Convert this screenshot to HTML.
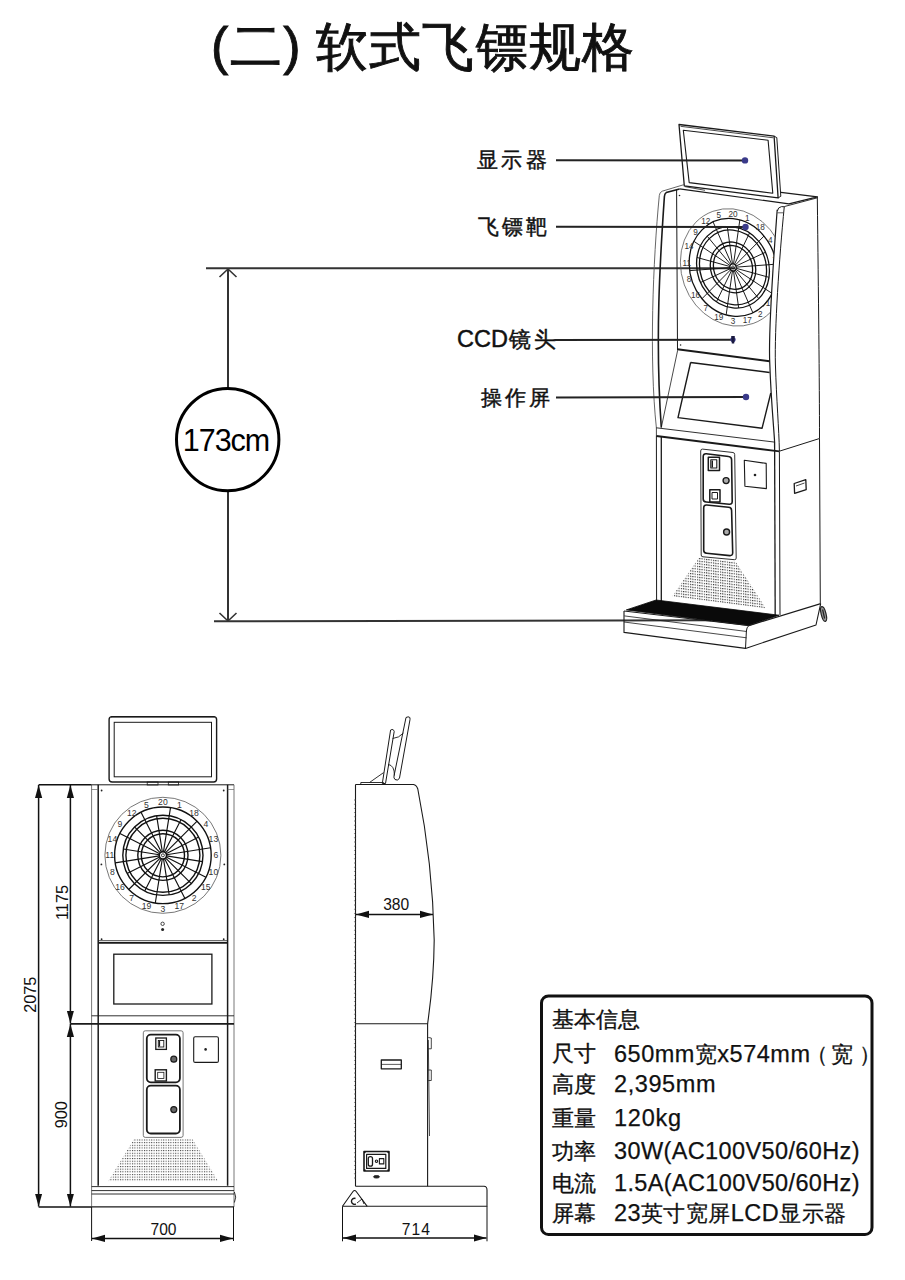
<!DOCTYPE html>
<html><head><meta charset="utf-8">
<style>
html,body{margin:0;padding:0;background:#fff;}
body{width:905px;height:1280px;overflow:hidden;position:relative;font-family:"Liberation Sans",sans-serif;}
svg{position:absolute;left:0;top:0;}
svg text{font-family:"Liberation Sans",sans-serif;}
</style></head><body>
<svg width="905" height="1280" viewBox="0 0 905 1280">
<defs>
<pattern id="grilleA" width="2.3" height="2.7" patternUnits="userSpaceOnUse" patternTransform="skewY(7.4)">
<rect x="0" y="0" width="1.15" height="1.15" fill="#2a2a2a"/>
</pattern>
<pattern id="grilleB" width="2.4" height="2.65" patternUnits="userSpaceOnUse">
<rect x="0" y="0" width="1.05" height="1.05" fill="#3a3a3a"/>
</pattern>
<marker id="arr" viewBox="0 0 13 8" refX="13" refY="4" markerWidth="13" markerHeight="8" markerUnits="userSpaceOnUse" orient="auto-start-reverse">
<path d="M0,0.4 L13,4 L0,7.6 Z" fill="#111"/>
</marker>
</defs>

<text x="211" y="64" font-size="52" fill="#111" stroke="#111" stroke-width="0.9" letter-spacing="1.5">(二)</text>
<text x="316" y="64.5" font-size="52" fill="#111" stroke="#111" stroke-width="0.9" letter-spacing="1.2">软式飞镖规格</text>
<g stroke="#333" stroke-width="2" fill="none">
<line x1="206" y1="268.3" x2="735" y2="268.3"/>
<line x1="214" y1="621.3" x2="711" y2="620.3"/>
<line x1="228" y1="269" x2="228" y2="388"/>
<line x1="228" y1="492" x2="228" y2="621"/>
<polyline points="219.5,277 228,269 236.5,277" stroke-width="1.6"/>
<polyline points="219.5,613 228,621 236.5,613" stroke-width="1.6"/>
</g>
<circle cx="227.7" cy="439.6" r="51.2" fill="#fff" stroke="#000" stroke-width="3"/>
<text x="226" y="451" font-size="30.5" text-anchor="middle" fill="#000" letter-spacing="-1">173cm</text>
<g stroke="#1a1a1a" fill="none" stroke-linejoin="round">
<path d="M679,124.5 L774.1,136.2 L778.1,197.9 L684.3,185.9 Z" stroke-width="1.3"/>
<path d="M680.5,126.3 L773.3,137.8" stroke-width="0.8"/>
<path d="M774.1,136.2 L776.8,137.6 L780.8,196.3 L778.1,197.9" stroke-width="1"/>
<path d="M683.3,130.2 L768.1,140.2 L772.8,193.2 L689.2,182.6 Z" stroke-width="1.1"/>
<path d="M684.1,184.6 L662.2,191.2 Q659.6,192.3 659.3,195.5 C653,260 649,360 656.4,428" stroke-width="0.9" stroke="#555"/>
<path d="M679.5,188.9 L666.2,192.6 Q664.6,193.5 664.4,196.5 C660,260 655,340 661.3,427.5" stroke-width="1.6"/>
<path d="M679.5,188.9 L788.9,203.9 L817.4,196.9 L780.9,192.3" stroke-width="1.2"/>
<path d="M784.5,206.5 L817.4,197.8" stroke-width="0.9"/>
<path d="M777.5,212.8 L783.3,212.8" stroke-width="0.7"/>
<path d="M684.8,186.6 L705,190.3" stroke-width="0.8"/>
<path d="M676.6,189.9 L677.5,350.6" stroke-width="1"/>
<path d="M777.4,211 Q777.8,207.2 781.5,206.6 L784.4,206.8" stroke-width="1"/>
<path d="M777.2,209.8 C773.5,260 768,330 769.8,364 C771,400 774,430 774.6,442" stroke-width="1.2"/>
<path d="M784.3,206.4 C779,260 774.5,330 775.4,364 C776.5,400 779,430 779.4,451" stroke-width="1"/>
<path d="M817.3,196.6 C818.5,300 819.5,380 819.5,438.5" stroke-width="1"/>
<path d="M779.4,451.2 L819.5,438.5" stroke-width="1"/>
<path d="M677.3,349.3 L769.6,361.3" stroke-width="2"/>
<path d="M677.5,351 L661.3,427.5" stroke-width="0.8"/>
<path d="M690.6,362.5 L769.6,372.5 M770.8,393 L762.1,428.2 L678,417.6 L690.6,362.5" stroke-width="1.4"/>
<path d="M656.4,427.8 L774.6,442.1" stroke-width="0.9"/>
<path d="M656.4,436 L779.4,451.4" stroke-width="1.8"/>
<path d="M656.4,427.8 L656.4,436" stroke-width="0.8"/>
<path d="M656.4,436 L656.6,603" stroke-width="1"/>
<path d="M661.3,436.6 L661.3,601" stroke-width="1.3"/>
<path d="M774.6,442 L775.2,616" stroke-width="1.3"/>
<path d="M779.4,451.4 L780,615" stroke-width="1"/>
<path d="M819.5,438.5 L820.3,603.6" stroke-width="1"/>
<path d="M702.5,449.1 L733,452.5 Q734.7,452.7 734.7,454.5 L736.2,558 Q736.2,559.9 734.4,559.7 L703,556.8 Q701.2,556.8 701.2,555 L700.7,451 Q700.7,449 702.5,449.1 Z" stroke-width="0.9"/>
<path d="M706.2,453.7 L728.6,456.5 Q731.6,456.8 731.6,459.8 L732.2,501.5 Q732.2,504.5 729.2,504.2 L706.2,502 Q703.2,501.7 703.2,499 L703.2,456.7 Q703.2,453.5 706.2,453.7 Z" stroke-width="1.6"/>
<path d="M706.7,505 L728.6,507.3 Q731.6,507.6 731.6,510.6 L732.7,552.8 Q732.7,555.8 729.7,555.6 L706.7,553.3 Q703.7,553 703.7,550.3 L703.7,508 Q703.7,504.8 706.7,505 Z" stroke-width="1.6"/>
<rect x="708.3" y="457.3" width="11.2" height="13.2" stroke-width="1.5"/>
<rect x="710.8" y="459.8" width="6" height="8.2" stroke-width="1.1"/>
<path d="M712.3,460.5 L712.3,467.5" stroke-width="1.4"/>
<rect x="709.8" y="489.8" width="10.2" height="12.2" stroke-width="1.5"/>
<rect x="712" y="492.5" width="5.5" height="6.5" stroke-width="1"/>
<circle cx="726.1" cy="480.6" r="3" fill="#aaa" stroke-width="1.4"/>
<circle cx="726.6" cy="532" r="3" fill="#aaa" stroke-width="1.4"/>
<path d="M744.3,460.3 L766.2,463.4 L766.4,488.6 L744.9,486.2 Z" stroke-width="1.1"/>
<circle cx="755" cy="475" r="1.3" fill="#222" stroke="none"/>
<path d="M794.2,483.5 L805.8,479.6 L806.2,489.6 L794.6,493.4 Z" stroke-width="1.3"/>
<path d="M796,486 L804.5,483" stroke-width="0.8"/>
<path d="M699,557.5 L735.5,561.5 L765.9,608.5 L672.3,596.5 Z" fill="url(#grilleA)" stroke="none"/>
<path d="M626.3,609.9 L656.1,600 L779,615.2 L748.8,625.6 Z" fill="#0a0a0a" stroke="#0a0a0a" stroke-width="0.8"/>
<path d="M624,611 L624,632.4 L745.5,648.4 L816,625 L820.7,603.6" stroke-width="1.1"/>
<path d="M624,611 L748.8,625.6 Q746.6,627.4 746.4,631 L745.5,648.4" stroke-width="1"/>
<path d="M624.3,615.9 L746.8,631.5" stroke-width="0.8"/>
<path d="M624,622 L746.5,637.8" stroke-width="0.8"/>
<path d="M748.8,625.6 L820.7,603.6" stroke-width="1.1"/>
<ellipse cx="823.6" cy="614" rx="2.4" ry="7.6" transform="rotate(-14 823.6 614)" fill="#999" stroke="#222" stroke-width="1.2"/>
<path d="M822.6,609.5 L824.6,618.5" stroke-width="1.2" stroke="#222"/>
<circle cx="679.5" cy="195.5" r="0.8" fill="#222" stroke="none"/>
<circle cx="680.6" cy="345" r="0.8" fill="#222" stroke="none"/>
</g>
<clipPath id="faceclip"><path d="M676,185 L778,185 L777.2,209.8 C773.5,260 768,330 769.8,364 L676,364 Z"/></clipPath>
<g clip-path="url(#faceclip)">
<g transform="matrix(0.9,0.0906,0,1,733,267.4)">
<circle cx="0" cy="0" r="58.5" stroke="#555" stroke-width="0.8" fill="none" vector-effect="non-scaling-stroke"/>
<circle cx="0" cy="0" r="48.7" stroke="#111" stroke-width="1.3" fill="none" vector-effect="non-scaling-stroke"/>
<circle cx="0" cy="0" r="40.5" stroke="#111" stroke-width="1.3" fill="none" vector-effect="non-scaling-stroke"/>
<circle cx="0" cy="0" r="37.3" stroke="#111" stroke-width="1.3" fill="none" vector-effect="non-scaling-stroke"/>
<circle cx="0" cy="0" r="25.3" stroke="#111" stroke-width="1.3" fill="none" vector-effect="non-scaling-stroke"/>
<circle cx="0" cy="0" r="21.8" stroke="#111" stroke-width="1.3" fill="none" vector-effect="non-scaling-stroke"/>
<circle cx="0" cy="0" r="3.6" stroke="#111" stroke-width="1.3" fill="none" vector-effect="non-scaling-stroke"/>
<circle cx="0" cy="0" r="1.5" stroke="#111" stroke-width="0.8" fill="none" vector-effect="non-scaling-stroke"/>
<path d="M0.6,-3.6L7.6,-48.1M1.6,-3.2L18.4,-36.1M2.6,-2.6L34.5,-34.5M3.2,-1.6L36.1,-18.4M3.6,-0.6L48.1,-7.6M3.6,0.6L40,6.3M3.2,1.6L43.4,22.1M2.6,2.6L28.6,28.6M1.6,3.2L22.1,43.4M0.6,3.6L6.3,40M-0.6,3.6L-7.6,48.1M-1.6,3.2L-18.4,36.1M-2.6,2.6L-34.5,34.5M-3.2,1.6L-36.1,18.4M-3.6,0.6L-48.1,7.6M-3.6,-0.6L-40,-6.3M-3.2,-1.6L-43.4,-22.1M-2.6,-2.6L-28.6,-28.6M-1.6,-3.2L-22.1,-43.4M-0.6,-3.6L-6.3,-40" stroke="#111" stroke-width="0.95" fill="none" vector-effect="non-scaling-stroke"/>
</g>
<text x="733" y="216.8" font-size="8.2" text-anchor="middle" fill="#333" stroke="none">20</text>
<text x="747.3" y="220.9" font-size="8.2" text-anchor="middle" fill="#333" stroke="none">1</text>
<text x="760.2" y="229.9" font-size="8.2" text-anchor="middle" fill="#333" stroke="none">18</text>
<text x="770.4" y="242.8" font-size="8.2" text-anchor="middle" fill="#333" stroke="none">4</text>
<text x="776.9" y="258.4" font-size="8.2" text-anchor="middle" fill="#333" stroke="none">13</text>
<text x="779.2" y="275.2" font-size="8.2" text-anchor="middle" fill="#333" stroke="none">6</text>
<text x="776.9" y="291.5" font-size="8.2" text-anchor="middle" fill="#333" stroke="none">10</text>
<text x="770.4" y="305.7" font-size="8.2" text-anchor="middle" fill="#333" stroke="none">15</text>
<text x="760.2" y="316.5" font-size="8.2" text-anchor="middle" fill="#333" stroke="none">2</text>
<text x="747.3" y="322.8" font-size="8.2" text-anchor="middle" fill="#333" stroke="none">17</text>
<text x="733" y="323.9" font-size="8.2" text-anchor="middle" fill="#333" stroke="none">3</text>
<text x="718.7" y="319.8" font-size="8.2" text-anchor="middle" fill="#333" stroke="none">19</text>
<text x="705.8" y="310.8" font-size="8.2" text-anchor="middle" fill="#333" stroke="none">7</text>
<text x="695.6" y="297.9" font-size="8.2" text-anchor="middle" fill="#333" stroke="none">16</text>
<text x="689.1" y="282.3" font-size="8.2" text-anchor="middle" fill="#333" stroke="none">8</text>
<text x="686.8" y="265.5" font-size="8.2" text-anchor="middle" fill="#333" stroke="none">11</text>
<text x="689.1" y="249.2" font-size="8.2" text-anchor="middle" fill="#333" stroke="none">14</text>
<text x="695.6" y="235" font-size="8.2" text-anchor="middle" fill="#333" stroke="none">9</text>
<text x="705.8" y="224.2" font-size="8.2" text-anchor="middle" fill="#333" stroke="none">12</text>
<text x="718.7" y="217.9" font-size="8.2" text-anchor="middle" fill="#333" stroke="none">5</text>
</g>
<g font-size="21" fill="#111" stroke="#111" stroke-width="0.45">
<text x="477" y="167" letter-spacing="3.4">显示器</text>
<text x="477.5" y="233.5" letter-spacing="3.4">飞镖靶</text>
<text x="457" y="346.6" font-size="23.5">CCD<tspan font-size="22" dx="0.8">镜</tspan><tspan font-size="22" dx="3">头</tspan></text>
<text x="481" y="405" letter-spacing="3">操作屏</text>
</g>
<g stroke="#222" stroke-width="2">
<line x1="556" y1="160.2" x2="745" y2="160.4"/>
<line x1="556" y1="226.7" x2="745" y2="227"/>
<line x1="554.5" y1="340" x2="733" y2="339.7"/>
<line x1="556" y1="397.5" x2="746" y2="397"/>
</g>
<g fill="#3a3a8a">
<circle cx="745" cy="160.4" r="3.2"/>
<circle cx="745.5" cy="227" r="3.2"/>
<circle cx="733" cy="339.6" r="2.6"/><path d="M731.2,336 L734.8,336 L734.2,343.5 L731.8,343.5 Z" fill="#1a1a40"/>
<circle cx="746" cy="397" r="3.2"/>
</g>
<g stroke="#1a1a1a" fill="none">
<rect x="109.1" y="716.6" width="107.5" height="65.4" rx="3" stroke-width="1.4"/>
<path d="M111,716.8 L214.7,716.8" stroke-width="1.2"/>
<rect x="114.2" y="722.3" width="97.3" height="54.5" stroke-width="1"/>
<rect x="147.2" y="782" width="10.8" height="3" stroke-width="0.8"/>
<rect x="168.3" y="782" width="10.3" height="3" stroke-width="0.8"/>
<path d="M91.6,784.8 L234,784.8" stroke-width="1"/>
<path d="M91.6,784.8 L91.6,1206.9 M234,784.8 L234,1206.9" stroke-width="0.8" stroke="#555"/>
<path d="M98.2,784.8 L98.2,1185.7 M227.6,784.8 L227.6,1185.7" stroke-width="1.5"/>
<path d="M91.6,789.5 L98.2,789.5 M227.6,789.5 L234,789.5" stroke-width="0.7" stroke="#666"/>
<path d="M98.2,940.7 L227.6,940.7" stroke-width="0.8"/>
<path d="M98.2,942.8 L227.6,942.8" stroke-width="1.8"/>
<rect x="113.8" y="954.2" width="98.1" height="49.8" stroke-width="1.3"/>
<path d="M91.6,1015.8 L234,1015.8" stroke-width="0.9"/>
<path d="M70.4,1023.8 L234,1023.8" stroke-width="1.8"/>
<rect x="143.3" y="1030.8" width="39.8" height="106.6" rx="2" stroke-width="0.8" stroke="#555"/>
<rect x="146.8" y="1034.6" width="33.1" height="47.7" rx="4" stroke-width="1.8"/>
<rect x="146.8" y="1085.7" width="33.1" height="47.8" rx="4" stroke-width="1.8"/>
<rect x="155.8" y="1038" width="10.6" height="11.4" stroke-width="1.3"/>
<rect x="158.3" y="1040.5" width="5.5" height="6.5" stroke-width="0.9"/>
<path d="M159.5,1041 L159.5,1046.5" stroke-width="1.2"/>
<rect x="155.2" y="1069.8" width="11.2" height="11.2" stroke-width="1.4"/>
<rect x="157.7" y="1072.3" width="6.2" height="6.2" stroke-width="0.8"/>
<circle cx="173.8" cy="1059.2" r="3" fill="#666" stroke-width="1.2"/>
<circle cx="173.8" cy="1109.6" r="3" fill="#666" stroke-width="1.2"/>
<rect x="193.7" y="1036.7" width="24.7" height="25.7" rx="1.5" stroke-width="1.1"/>
<circle cx="205.6" cy="1049.4" r="1.3" fill="#222" stroke="none"/>
<path d="M134,1139 L192.4,1139 L218.5,1181.5 L108,1181.5 Z" fill="url(#grilleB)" stroke="none"/>
<path d="M91.6,1186.6 L234,1186.6 M91.6,1190.6 L234,1190.6 M91.6,1194 L234,1194" stroke-width="0.9"/>
<path d="M91.6,1206.9 L234,1206.9" stroke-width="1.3"/>
<path d="M234.4,1192 Q237,1197 234.4,1202.5" stroke-width="0.9"/>
<circle cx="101.6" cy="790.5" r="0.9" fill="#222" stroke="none"/>
<circle cx="223.7" cy="790.5" r="0.9" fill="#222" stroke="none"/>
<circle cx="101.4" cy="864.4" r="0.9" fill="#222" stroke="none"/>
<circle cx="224.3" cy="864.4" r="0.9" fill="#222" stroke="none"/>
<circle cx="101.6" cy="939.2" r="0.9" fill="#222" stroke="none"/>
<circle cx="223.7" cy="939.2" r="0.9" fill="#222" stroke="none"/>
<circle cx="162.6" cy="923.8" r="1.7" stroke-width="0.8"/>
<circle cx="162.6" cy="929.4" r="1.5" fill="#222" stroke="none"/>
</g>
<g transform="matrix(1,0.0000,0,1,162.9,855.3)">
<circle cx="0" cy="0" r="58" stroke="#555" stroke-width="0.8" fill="none" vector-effect="non-scaling-stroke"/>
<circle cx="0" cy="0" r="48.3" stroke="#111" stroke-width="1.4" fill="none" vector-effect="non-scaling-stroke"/>
<circle cx="0" cy="0" r="40.1" stroke="#111" stroke-width="1.4" fill="none" vector-effect="non-scaling-stroke"/>
<circle cx="0" cy="0" r="37" stroke="#111" stroke-width="1.4" fill="none" vector-effect="non-scaling-stroke"/>
<circle cx="0" cy="0" r="25.1" stroke="#111" stroke-width="1.4" fill="none" vector-effect="non-scaling-stroke"/>
<circle cx="0" cy="0" r="21.6" stroke="#111" stroke-width="1.4" fill="none" vector-effect="non-scaling-stroke"/>
<circle cx="0" cy="0" r="3.6" stroke="#111" stroke-width="1.4" fill="none" vector-effect="non-scaling-stroke"/>
<circle cx="0" cy="0" r="1.5" stroke="#111" stroke-width="0.8" fill="none" vector-effect="non-scaling-stroke"/>
<path d="M0.6,-3.6L7.6,-47.7M1.6,-3.2L18.2,-35.8M2.5,-2.5L34.2,-34.2M3.2,-1.6L35.8,-18.2M3.6,-0.6L47.7,-7.6M3.6,0.6L39.6,6.3M3.2,1.6L43,21.9M2.5,2.5L28.4,28.4M1.6,3.2L21.9,43M0.6,3.6L6.3,39.6M-0.6,3.6L-7.6,47.7M-1.6,3.2L-18.2,35.8M-2.5,2.5L-34.2,34.2M-3.2,1.6L-35.8,18.2M-3.6,0.6L-47.7,7.6M-3.6,-0.6L-39.6,-6.3M-3.2,-1.6L-43,-21.9M-2.5,-2.5L-28.4,-28.4M-1.6,-3.2L-21.9,-43M-0.6,-3.6L-6.3,-39.6" stroke="#111" stroke-width="1.15" fill="none" vector-effect="non-scaling-stroke"/>
</g>
<text x="162.9" y="805.3" font-size="8.6" text-anchor="middle" fill="#333" stroke="none">20</text>
<text x="179.3" y="807.9" font-size="8.6" text-anchor="middle" fill="#333" stroke="none">1</text>
<text x="194.1" y="815.5" font-size="8.6" text-anchor="middle" fill="#333" stroke="none">18</text>
<text x="205.8" y="827.2" font-size="8.6" text-anchor="middle" fill="#333" stroke="none">4</text>
<text x="213.4" y="842" font-size="8.6" text-anchor="middle" fill="#333" stroke="none">13</text>
<text x="216" y="858.4" font-size="8.6" text-anchor="middle" fill="#333" stroke="none">6</text>
<text x="213.4" y="874.8" font-size="8.6" text-anchor="middle" fill="#333" stroke="none">10</text>
<text x="205.8" y="889.6" font-size="8.6" text-anchor="middle" fill="#333" stroke="none">15</text>
<text x="194.1" y="901.3" font-size="8.6" text-anchor="middle" fill="#333" stroke="none">2</text>
<text x="179.3" y="908.9" font-size="8.6" text-anchor="middle" fill="#333" stroke="none">17</text>
<text x="162.9" y="911.5" font-size="8.6" text-anchor="middle" fill="#333" stroke="none">3</text>
<text x="146.5" y="908.9" font-size="8.6" text-anchor="middle" fill="#333" stroke="none">19</text>
<text x="131.7" y="901.3" font-size="8.6" text-anchor="middle" fill="#333" stroke="none">7</text>
<text x="120" y="889.6" font-size="8.6" text-anchor="middle" fill="#333" stroke="none">16</text>
<text x="112.4" y="874.8" font-size="8.6" text-anchor="middle" fill="#333" stroke="none">8</text>
<text x="109.8" y="858.4" font-size="8.6" text-anchor="middle" fill="#333" stroke="none">11</text>
<text x="112.4" y="842" font-size="8.6" text-anchor="middle" fill="#333" stroke="none">14</text>
<text x="120" y="827.2" font-size="8.6" text-anchor="middle" fill="#333" stroke="none">9</text>
<text x="131.7" y="815.5" font-size="8.6" text-anchor="middle" fill="#333" stroke="none">12</text>
<text x="146.5" y="807.9" font-size="8.6" text-anchor="middle" fill="#333" stroke="none">5</text>
<g stroke="#111" stroke-width="1.5" fill="none">
<path d="M38.6,784.8 L91.6,784.8"/>
<path d="M38.6,1206.9 L91.6,1206.9"/>
<path d="M38.6,785 L38.6,1206.6" marker-start="url(#arr)" marker-end="url(#arr)"/>
<path d="M70.4,785 L70.4,1023.6" marker-start="url(#arr)" marker-end="url(#arr)"/>
<path d="M70.4,1024 L70.4,1206.6" marker-start="url(#arr)" marker-end="url(#arr)"/>
<path d="M91.6,1206.9 L91.6,1241 M233.5,1206.9 L233.5,1241" stroke-width="1"/>
<path d="M92,1238.4 L233,1238.4" marker-start="url(#arr)" marker-end="url(#arr)"/>
</g>
<g font-size="16.3" fill="#111">
<text x="163.5" y="1234.8" text-anchor="middle" font-size="15.6">700</text>
<text transform="translate(35.7,994.7) rotate(-90)" text-anchor="middle">2075</text>
<text transform="translate(67.6,902.5) rotate(-90)" text-anchor="middle">1175</text>
<text transform="translate(67.1,1114.7) rotate(-90)" text-anchor="middle">900</text>
</g>
<g stroke="#1a1a1a" fill="none" stroke-linejoin="round">
<path d="M355.5,784.5 L355.5,1186.3" stroke-width="1.1"/>
<path d="M355.5,784.5 L413.5,784.5 Q416.5,785 417.8,789 C426,830 433,880 434.2,940 C434,970 431,1000 427.6,1023.8" stroke-width="1.1"/>
<path d="M355.5,1023.8 L427.6,1023.8 L427.6,1186.3" stroke-width="1.1"/>
<path d="M428.3,1037.5 L431.3,1038 L431.3,1048.8 L428.3,1048.8 M428.3,1070 L431.3,1070 L431.3,1080.5 L428.3,1080.5 M428.3,1040 L429.5,1136" stroke-width="0.8"/>
<rect x="381.3" y="1060" width="20" height="8.8" stroke-width="1.3"/>
<path d="M381.3,1064.4 L401.3,1064.4" stroke-width="0.7"/>
<rect x="364" y="1151.5" width="25" height="19.5" stroke-width="1.6"/>
<rect x="366.6" y="1154.4" width="19.2" height="14" stroke-width="1.2"/>
<rect x="368.3" y="1156.6" width="4.2" height="9.6" rx="2" stroke-width="1.3"/>
<circle cx="376.5" cy="1161.2" r="1.2" stroke-width="1.1"/>
<rect x="379.4" y="1158.6" width="4.4" height="5.3" stroke-width="1.1"/>
<ellipse cx="376.5" cy="1176.8" rx="3" ry="1.3" fill="#222" stroke-width="0.8"/>
<circle cx="364.8" cy="1152.3" r="0.9" fill="#111" stroke="none"/>
<circle cx="388.2" cy="1152.3" r="0.9" fill="#111" stroke="none"/>
<circle cx="364.8" cy="1170.2" r="0.9" fill="#111" stroke="none"/>
<circle cx="388.2" cy="1170.2" r="0.9" fill="#111" stroke="none"/>
<path d="M355.5,1186.3 L484,1186.3 Q487,1186.5 487,1190 L487,1206.3 L342.5,1206.3" stroke-width="1.1"/>
<path d="M342.5,1206.3 L353,1191.5 Q354.6,1189.5 356.2,1191.5 L367.2,1206.3" stroke-width="1.1"/>
<path d="M355.5,1198.5 A3,3 0 1 0 355.8,1204" stroke-width="1.4"/>
<path d="M357,1203 L362,1199 L364,1204" stroke-width="0.9"/>
<path d="M355.5,799 l-1,1 l1,1M355.5,803.2 l-1,1 l1,1M355.5,807.4 l-1,1 l1,1M355.5,811.6 l-1,1 l1,1M355.5,815.8 l-1,1 l1,1M355.5,820 l-1,1 l1,1M355.5,824.2 l-1,1 l1,1M355.5,828.4 l-1,1 l1,1M355.5,832.6 l-1,1 l1,1M355.5,836.8 l-1,1 l1,1M355.5,841 l-1,1 l1,1M355.5,845.2 l-1,1 l1,1M355.5,849.4 l-1,1 l1,1M355.5,853.6 l-1,1 l1,1M355.5,857.8 l-1,1 l1,1M355.5,862 l-1,1 l1,1M355.5,866.2 l-1,1 l1,1M355.5,870.4 l-1,1 l1,1M355.5,874.6 l-1,1 l1,1M355.5,878.8 l-1,1 l1,1M355.5,883 l-1,1 l1,1M355.5,887.2 l-1,1 l1,1M355.5,891.4 l-1,1 l1,1M355.5,895.6 l-1,1 l1,1M355.5,899.8 l-1,1 l1,1M355.5,904 l-1,1 l1,1M355.5,908.2 l-1,1 l1,1M355.5,912.4 l-1,1 l1,1M355.5,916.6 l-1,1 l1,1M355.5,920.8 l-1,1 l1,1M355.5,925 l-1,1 l1,1M355.5,929.2 l-1,1 l1,1M355.5,933.4 l-1,1 l1,1M355.5,937.6 l-1,1 l1,1M355.5,941.8 l-1,1 l1,1M355.5,946 l-1,1 l1,1M355.5,950.2 l-1,1 l1,1M355.5,954.4 l-1,1 l1,1M355.5,958.6 l-1,1 l1,1M355.5,962.8 l-1,1 l1,1M355.5,967 l-1,1 l1,1M355.5,971.2 l-1,1 l1,1M355.5,975.4 l-1,1 l1,1M355.5,979.6 l-1,1 l1,1M355.5,983.8 l-1,1 l1,1M355.5,988 l-1,1 l1,1M355.5,992.2 l-1,1 l1,1M355.5,996.4 l-1,1 l1,1M355.5,1000.6 l-1,1 l1,1M355.5,1004.8 l-1,1 l1,1M355.5,1009 l-1,1 l1,1M355.5,1013.2 l-1,1 l1,1M355.5,1017.4 l-1,1 l1,1M355.5,1021.6 l-1,1 l1,1M355.5,1025.8 l-1,1 l1,1M355.5,1030 l-1,1 l1,1M355.5,1034.2 l-1,1 l1,1M355.5,1038.4 l-1,1 l1,1M355.5,1042.6 l-1,1 l1,1M355.5,1046.8 l-1,1 l1,1M355.5,1051 l-1,1 l1,1M355.5,1055.2 l-1,1 l1,1M355.5,1059.4 l-1,1 l1,1M355.5,1063.6 l-1,1 l1,1M355.5,1067.8 l-1,1 l1,1M355.5,1072 l-1,1 l1,1M355.5,1076.2 l-1,1 l1,1M355.5,1080.4 l-1,1 l1,1M355.5,1084.6 l-1,1 l1,1M355.5,1088.8 l-1,1 l1,1M355.5,1093 l-1,1 l1,1M355.5,1097.2 l-1,1 l1,1M355.5,1101.4 l-1,1 l1,1M355.5,1105.6 l-1,1 l1,1M355.5,1109.8 l-1,1 l1,1M355.5,1114 l-1,1 l1,1M355.5,1118.2 l-1,1 l1,1M355.5,1122.4 l-1,1 l1,1M355.5,1126.6 l-1,1 l1,1M355.5,1130.8 l-1,1 l1,1M355.5,1135 l-1,1 l1,1M355.5,1139.2 l-1,1 l1,1M355.5,1143.4 l-1,1 l1,1M355.5,1147.6 l-1,1 l1,1M355.5,1151.8 l-1,1 l1,1M355.5,1156 l-1,1 l1,1M355.5,1160.2 l-1,1 l1,1M355.5,1164.4 l-1,1 l1,1M355.5,1168.6 l-1,1 l1,1M355.5,1172.8 l-1,1 l1,1M355.5,1177 l-1,1 l1,1" stroke-width="0.7" stroke="#444"/>
<path d="M360.8,782.5 L383.6,782.5 L383.6,784.5 L360.8,784.5 Z" stroke-width="0.9"/>
<path d="M369.5,782.5 L383.6,772.6" stroke-width="0.9"/>
<path d="M390.6,730 Q393.5,728.5 394.2,731.5 L385.5,783.5 L382.3,783.5 Z" stroke-width="1"/>
<path d="M406,717.5 Q410.5,715.5 410,719.5 L399.5,778 Q398,781.5 395,779.5 Q393.5,778 394,776 Z" stroke-width="1"/>
<path d="M392.6,738.5 Q399,738 403.5,733" stroke-width="0.9"/>
<path d="M388.2,764.4 Q394.6,765.5 394.4,775.5" stroke-width="0.9"/>
</g>
<g stroke="#111" stroke-width="1.5" fill="none">
<path d="M356,914.4 L433,914.4" marker-start="url(#arr)" marker-end="url(#arr)"/>
<path d="M342.5,1206.3 L342.5,1241.3 M487,1206.3 L487,1241.3" stroke-width="1"/>
<path d="M343,1238 L486.5,1238" marker-start="url(#arr)" marker-end="url(#arr)"/>
</g>
<g font-size="15.6" fill="#111">
<text x="396.2" y="909.8" text-anchor="middle">380</text>
<text x="416.3" y="1234.6" text-anchor="middle" letter-spacing="1">714</text>
</g>
<rect x="541.5" y="996" width="330.5" height="238.5" rx="7" fill="none" stroke="#111" stroke-width="3"/>
<g font-size="22" fill="#111" stroke="#111" stroke-width="0.35">
<text x="552" y="1027">基本信息</text>
<text x="552" y="1060.5">尺寸</text>
<text x="552" y="1092">高度</text>
<text x="552" y="1126">重量</text>
<text x="552" y="1159">功率</text>
<text x="552" y="1191">电流</text>
<text x="552" y="1220.5">屏幕</text>
</g>
<g font-size="23.5" fill="#111" stroke="#111" stroke-width="0.25">
<text x="614" y="1061.5" textLength="196" lengthAdjust="spacing">650mm<tspan font-size="22">宽</tspan>x574mm</text>
<text x="806" y="1061.5" font-size="22">（</text><text x="831" y="1061.5" font-size="22">宽</text><text x="859" y="1061.5" font-size="22">）</text>
<text x="614" y="1091.5" textLength="101.5" lengthAdjust="spacing">2,395mm</text>
<text x="614" y="1125.8" textLength="67" lengthAdjust="spacing">120kg</text>
<text x="614" y="1159" textLength="245.5" lengthAdjust="spacing">30W(AC100V50/60Hz)</text>
<text x="614" y="1190.9" textLength="245.5" lengthAdjust="spacing">1.5A(AC100V50/60Hz)</text>
<text x="614" y="1221.3" textLength="232" lengthAdjust="spacing">23<tspan font-size="22">英寸宽屏</tspan>LCD<tspan font-size="22">显示器</tspan></text>
</g>
</svg>
</body></html>
